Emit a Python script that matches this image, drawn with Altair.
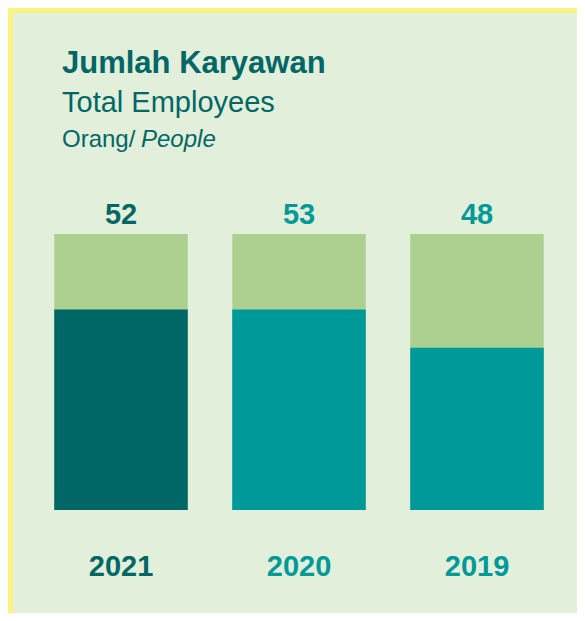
import altair as alt
import pandas as pd

# ---- data ----
years = ["2021", "2020", "2019"]
employees = [52, 53, 48]
bar_level = [72.6, 72.6, 58.8]      # filled part of each column (0-100 scale)
bar_track = [100, 100, 100]         # full column height
year_colors = ["#006766", "#009999", "#009999"]

title = "Jumlah Karyawan"
subtitle = "Total Employees"
unit_id = "Orang/ "
unit_en = "People"

TEXT = "#006766"
BG = "#E2EFDA"
BORDER = "#FFF27F"
TRACK = "#ABD08F"
FONT = "Liberation Sans"

df = pd.DataFrame({
    "year": years,
    "employees": employees,
    "level": bar_level,
    "track": bar_track,
})

W, H = 564, 600

x = alt.X("year:N", sort=years, axis=None,
          scale=alt.Scale(range=[19, 553], paddingInner=0.25, paddingOuter=0.125))
yscale = alt.Scale(domain=[0, 100], range=[497, 221])
color = alt.Color("year:N", sort=years, legend=None,
                  scale=alt.Scale(domain=years, range=year_colors))

base = alt.Chart(df)

track = base.mark_bar(color=TRACK).encode(
    x=x, y=alt.Y("track:Q", scale=yscale, axis=None))
fill = base.mark_bar().encode(
    x=x, y=alt.Y("level:Q", scale=yscale, axis=None), color=color)
values = base.mark_text(font=FONT, fontSize=29, fontWeight="bold",
                        baseline="alphabetic", dy=-10).encode(
    x=x, y=alt.Y("track:Q", scale=yscale, axis=None),
    text="employees:Q", color=color)
year_labels = base.mark_text(font=FONT, fontSize=29, fontWeight="bold",
                             baseline="alphabetic").encode(
    x=x, y=alt.value(563), text="year:N", color=color)


def header(txt, xpos, ypos, size, weight="normal", style="normal"):
    return alt.Chart(pd.DataFrame({"t": [txt]})).mark_text(
        font=FONT, fontSize=size, fontWeight=weight, fontStyle=style,
        align="left", baseline="alphabetic", color=TEXT
    ).encode(x=alt.value(xpos), y=alt.value(ypos), text="t:N")


h1 = header(title, 49, 60, 31, weight="bold")
h2 = header(subtitle, 49, 98.5, 29)
h3a = header(unit_id, 49, 133.5, 24)
h3b = header(unit_en, 128, 133.5, 24, style="italic")

chart = alt.layer(track, fill, values, year_labels, h1, h2, h3a, h3b).properties(
    width=W, height=H,
    autosize=alt.AutoSizeParams(type="none"),
    padding={"left": 5, "top": 5, "right": 0, "bottom": 0},
    background=BORDER,
).configure_view(fill=BG, stroke=None)

chart.save("out.html", embed_options={"renderer": "svg", "actions": False})
